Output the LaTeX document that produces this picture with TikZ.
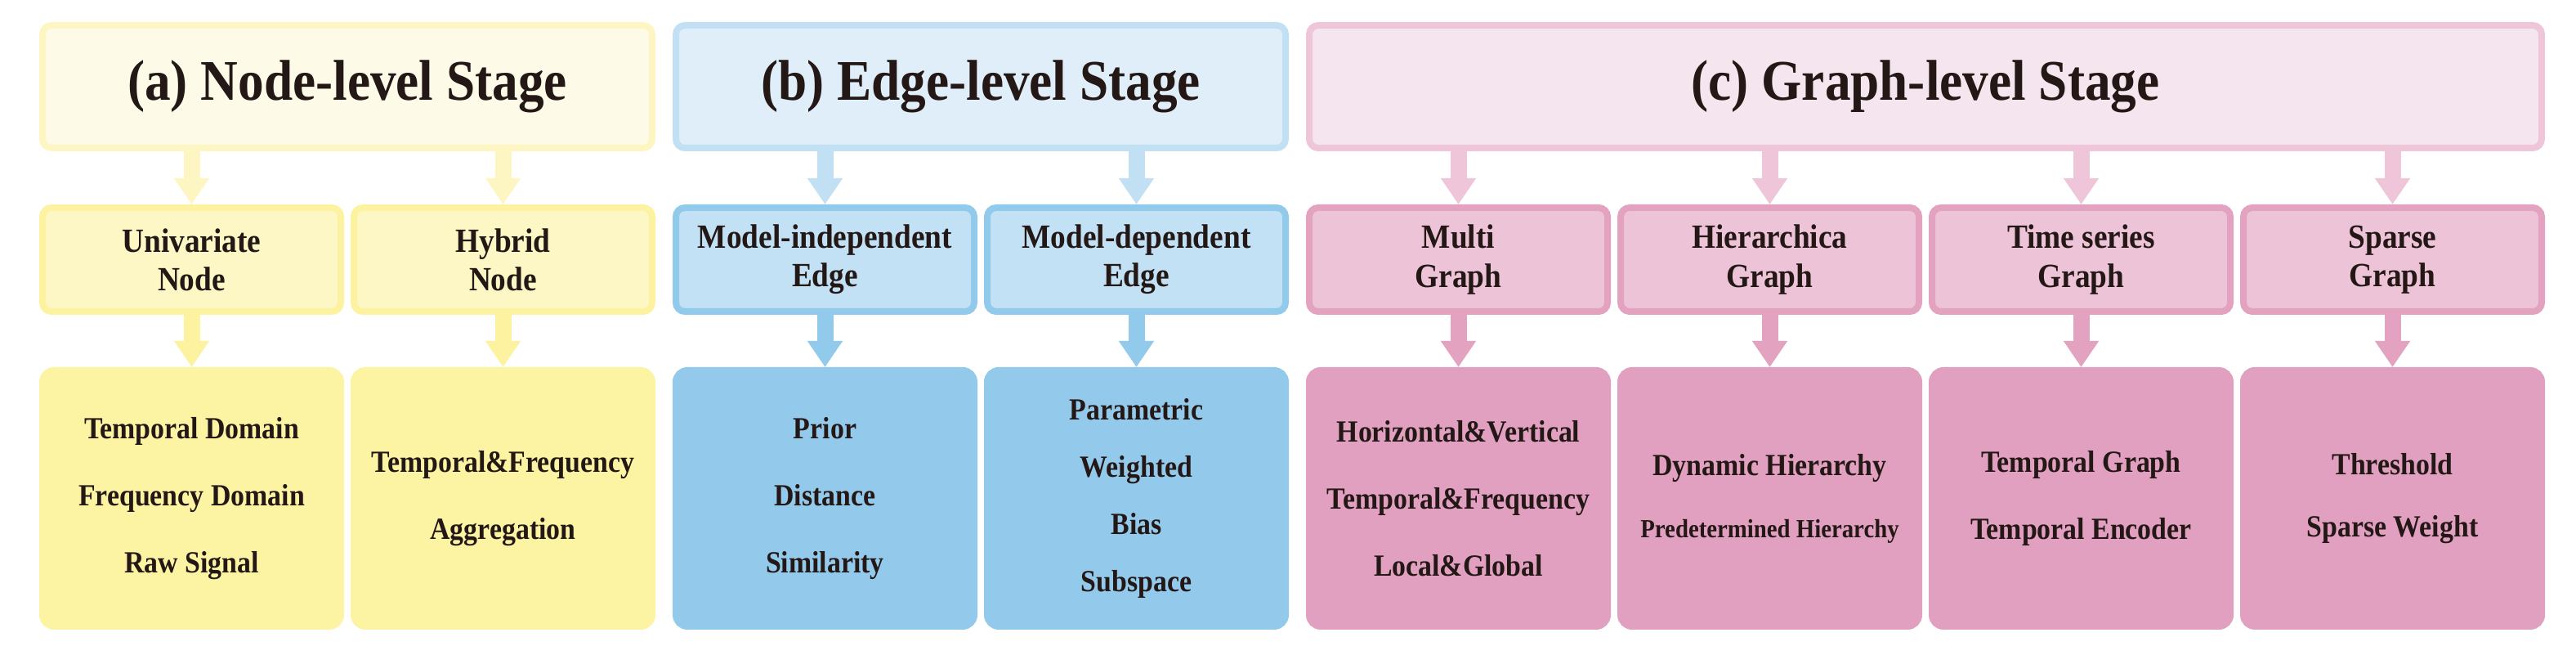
\documentclass[tikz,border=0pt]{standalone}
\usepackage{fontspec}
\setmainfont{Liberation Serif}
\newfontfamily\heavyserif{Liberation Serif}[FakeStretch=0.9]
\usetikzlibrary{arrows.meta}

\definecolor{ylwtop}{HTML}{FDFBE8}
\definecolor{ylwtopline}{HTML}{FDF6C3}
\definecolor{ylwmid}{HTML}{FCF7C5}
\definecolor{ylwmidline}{HTML}{FCF29F}
\definecolor{ylwleaf}{HTML}{FCF4A3}
\definecolor{blutop}{HTML}{DFEEF8}
\definecolor{blutopline}{HTML}{C2E0F4}
\definecolor{blumid}{HTML}{C3E1F5}
\definecolor{blumidline}{HTML}{92CAEC}
\definecolor{bluleaf}{HTML}{93CAEC}
\definecolor{pnktop}{HTML}{F5E5EE}
\definecolor{pnktopline}{HTML}{EFC6D9}
\definecolor{pnkmid}{HTML}{EDC4D7}
\definecolor{pnkmidline}{HTML}{E2A2C0}
\definecolor{pnkleaf}{HTML}{E1A0C0}
\definecolor{txt}{HTML}{231815}

\begin{document}
\begin{tikzpicture}[
	stage/.style 2 args={draw=#1, fill=#2, line width=0.08cm, rounded corners=0.11cm, minimum height=1.50cm, text=txt, font=\heavyserif\bfseries\fontsize{20}{24}\selectfont},
	kind/.style 2 args={draw=#1, fill=#2, line width=0.08cm, rounded corners=0.11cm, minimum width=3.65cm, minimum height=1.27cm, inner xsep=0.05cm, align=center, text=txt, font=\heavyserif\bfseries\fontsize{11.8}{13.4}\selectfont},
	leaf/.style={draw=#1, fill=#1, line width=0.08cm, rounded corners=0.14cm, minimum width=3.65cm, minimum height=3.13cm, inner xsep=0.05cm, align=center, text=txt, font=\heavyserif\bfseries\fontsize{10.7}{23.3}\selectfont},
	down/.style={draw=#1, line width=0.2cm, -{Triangle[width=0.41cm,length=0.32cm]}}
	]
	\useasboundingbox (0,0) rectangle (31.52,8.12);

	% stages
	\node (nodestage) at (4.25,7.06) [stage={ylwtopline}{ylwtop}, minimum width=7.46cm] {(a) Node-level Stage};
	\node (edgestage) at (12.00,7.06) [stage={blutopline}{blutop}, minimum width=7.46cm] {(b) Edge-level Stage};
	\node (graphstage) at (23.56,7.06) [stage={pnktopline}{pnktop}, minimum width=15.08cm] {(c) Graph-level Stage};

	% kinds
	\node (uni) at (2.345,4.945) [kind={ylwmidline}{ylwmid}] {Univariate\\Node};
	\node (hyb) at (6.155,4.945) [kind={ylwmidline}{ylwmid}] {Hybrid\\Node};
	\node (indep) at (10.095,4.945) [kind={blumidline}{blumid}] {Model-independent\\Edge};
	\node (dep) at (13.905,4.945) [kind={blumidline}{blumid}] {Model-dependent\\Edge};
	\node (multi) at (17.845,4.945) [kind={pnkmidline}{pnkmid}] {Multi\\Graph};
	\node (hier) at (21.655,4.945) [kind={pnkmidline}{pnkmid}] {Hierarchica\\Graph};
	\node (tser) at (25.465,4.945) [kind={pnkmidline}{pnkmid}] {Time series\\Graph};
	\node (sparse) at (29.275,4.945) [kind={pnkmidline}{pnkmid}] {Sparse\\Graph};

	% methods
	\node (unilist) at (2.345,2.025) [leaf=ylwleaf] {Temporal Domain\\Frequency Domain\\Raw Signal};
	\node (hyblist) at (6.155,2.025) [leaf=ylwleaf] {Temporal\&Frequency\\Aggregation};
	\node (indeplist) at (10.095,2.025) [leaf=bluleaf] {Prior\\Distance\\Similarity};
	\node (deplist) at (13.905,2.025) [leaf=bluleaf, font=\heavyserif\bfseries\fontsize{10.7}{19.9}\selectfont] {Parametric\\Weighted\\Bias\\Subspace};
	\node (multilist) at (17.845,2.025) [leaf=pnkleaf] {Horizontal\&Vertical\\Temporal\&Frequency\\Local\&Global};
	\node (hierlist) at (21.655,2.025) [leaf=pnkleaf, font=\heavyserif\bfseries\fontsize{10.7}{21.6}\selectfont] {Dynamic Hierarchy\\{\fontsize{9.1}{21.6}\selectfont Predetermined Hierarchy}};
	\node (tserlist) at (25.465,2.025) [leaf=pnkleaf] {Temporal Graph\\Temporal Encoder};
	\node (sparselist) at (29.275,2.025) [leaf=pnkleaf, font=\heavyserif\bfseries\fontsize{10.7}{21.6}\selectfont] {Threshold\\Sparse Weight};

	\draw[down=ylwtopline] (uni.north |- nodestage.south) -- (uni);
	\draw[down=ylwtopline] (hyb.north |- nodestage.south) -- (hyb);
	\draw[down=blutopline] (indep.north |- edgestage.south) -- (indep);
	\draw[down=blutopline] (dep.north |- edgestage.south) -- (dep);
	\draw[down=pnktopline] (multi.north |- graphstage.south) -- (multi);
	\draw[down=pnktopline] (hier.north |- graphstage.south) -- (hier);
	\draw[down=pnktopline] (tser.north |- graphstage.south) -- (tser);
	\draw[down=pnktopline] (sparse.north |- graphstage.south) -- (sparse);

	\draw[down=ylwmidline] (uni) -- (unilist);
	\draw[down=ylwmidline] (hyb) -- (hyblist);
	\draw[down=blumidline] (indep) -- (indeplist);
	\draw[down=blumidline] (dep) -- (deplist);
	\draw[down=pnkmidline] (multi) -- (multilist);
	\draw[down=pnkmidline] (hier) -- (hierlist);
	\draw[down=pnkmidline] (tser) -- (tserlist);
	\draw[down=pnkmidline] (sparse) -- (sparselist);
\end{tikzpicture}
\end{document}
